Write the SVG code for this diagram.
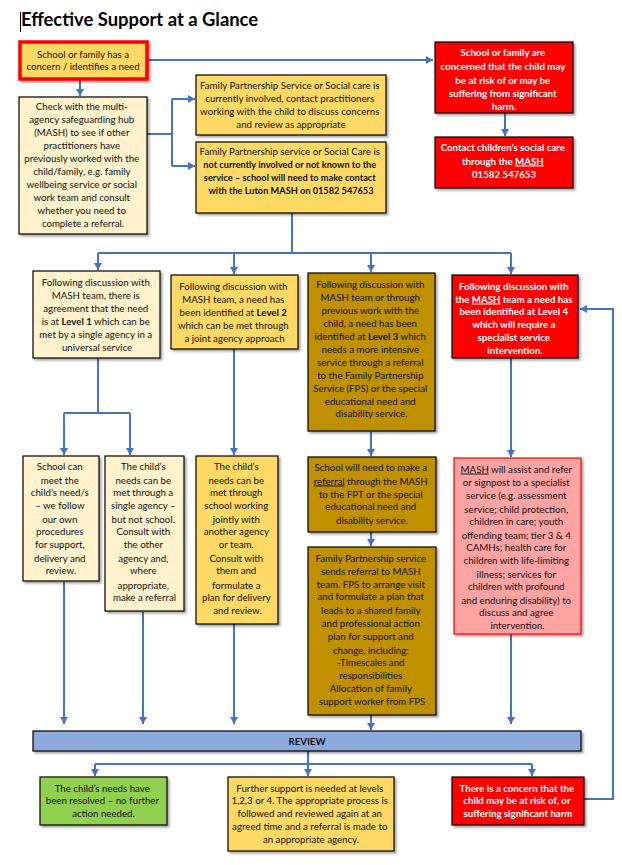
<svg xmlns="http://www.w3.org/2000/svg" width="622" height="865" viewBox="0 0 622 865">
<style>
.t{font-family:Lato,"Liberation Sans",sans-serif;font-size:9.7px;fill:#111;text-anchor:middle}
.w{fill:#fff;font-weight:bold}
.b{font-weight:bold}
.u{text-decoration:underline}
.box{stroke:#000;stroke-width:1.2;filter:url(#sh)}
.ly{fill:#FFF2CC}
.gd{fill:#FFD966}
.dg{fill:#BF9000}
.rd{fill:#FF0000}
.pk{fill:#FFA3A3;stroke:#FF0000}
.c{fill:none;stroke:#4472C4;stroke-width:2}
.a{marker-end:url(#ah)}
</style>
<defs>
<filter id="sh" x="-10%" y="-10%" width="130%" height="130%">
<feDropShadow dx="2" dy="2" stdDeviation="1.2" flood-color="#000" flood-opacity="0.35"/>
</filter>
<marker id="ah" markerUnits="userSpaceOnUse" markerWidth="8" markerHeight="8" refX="7" refY="4" orient="auto">
<path d="M0,0 L7,4 L0,8 z" fill="#4472C4"/>
</marker>
</defs>
<rect width="622" height="865" fill="#fff"/>
<line x1="20.5" y1="12" x2="20.5" y2="32" stroke="#000" stroke-width="1"/>
<text x="21" y="26" style="font-family:Lato,'Liberation Sans',sans-serif;font-size:18.4px;font-weight:bold;fill:#000">Effective Support at a Glance</text>

<g id="connectors">
<path class="c a" d="M80 80 V96"/>
<path class="c a" d="M148 60 H433"/>
<path class="c" d="M147 134 H172 M172 99 V166"/>
<path class="c a" d="M172 99 H195"/>
<path class="c a" d="M172 166 H195"/>
<path class="c a" d="M505 113 V136"/>
<path class="c" d="M292 213 V253 M98 253 H511"/>
<path class="c a" d="M98 253 V270"/>
<path class="c a" d="M234 253 V274"/>
<path class="c a" d="M371 253 V272"/>
<path class="c a" d="M511 253 V274"/>
<path class="c" d="M98 358 V413 M64 413 H130"/>
<path class="c a" d="M64 413 V455"/>
<path class="c a" d="M130 413 V455"/>
<path class="c a" d="M234 349 V455"/>
<path class="c a" d="M371 432 V456"/>
<path class="c a" d="M511 358 V457"/>
<path class="c a" d="M371 532 V546"/>
<path class="c a" d="M64 582 V724"/>
<path class="c a" d="M143 612 V724"/>
<path class="c a" d="M234 624 V724"/>
<path class="c a" d="M371 715 V730"/>
<path class="c a" d="M511 634 V724"/>
<path class="c" d="M308 751 V764 M95 764 H532"/>
<path class="c a" d="M95 764 V776"/>
<path class="c a" d="M308 764 V776"/>
<path class="c a" d="M532 764 V776"/>
<path class="c a" d="M584 799 H613 V309 H580"/>
</g>

<g id="n-concern">
<rect x="20" y="42" width="127" height="37" class="gd" stroke="#FF0000" stroke-width="3.5" filter="url(#sh)"/>
<text class="t"><tspan x="83" y="57.5">School or family has a</tspan><tspan x="83" y="70">concern / identifies a need</tspan></text>
</g>

<g id="n-check">
<rect x="19" y="97" width="128" height="137" class="box ly"/>
<text class="t">
<tspan x="83" y="110">Check with the multi-</tspan>
<tspan x="83" y="123">agency safeguarding hub</tspan>
<tspan x="83" y="136">(MASH) to see if other</tspan>
<tspan x="83" y="149">practitioners have</tspan>
<tspan x="83" y="162">previously worked with the</tspan>
<tspan x="83" y="175">child/family, e.g. family</tspan>
<tspan x="83" y="188">wellbeing service or social</tspan>
<tspan x="83" y="201">work team and consult</tspan>
<tspan x="83" y="214">whether you need to</tspan>
<tspan x="83" y="227">complete a referral.</tspan>
</text>
</g>

<g id="n-fps-involved">
<rect x="196" y="75" width="190" height="60" class="box gd"/>
<text class="t">
<tspan x="291" y="88.5">Family Partnership Service or Social care is</tspan>
<tspan x="291" y="101.5">currently involved, contact practitioners</tspan>
<tspan x="291" y="114.5">working with the child to discuss concerns</tspan>
<tspan x="291" y="127.5">and review as appropriate</tspan>
</text>
</g>

<g id="n-fps-not">
<rect x="196" y="142" width="190" height="71" class="box gd"/>
<text class="t">
<tspan x="291" y="155">Family Partnership service or Social Care is</tspan>
<tspan x="291" y="168" class="b" style="font-size:9.2px">not currently involved or not known to the</tspan>
<tspan x="291" y="181" class="b" style="font-size:9.2px">service – school will need to make contact</tspan>
<tspan x="291" y="194" class="b" style="font-size:9.2px">with the Luton MASH on 01582 547653</tspan>
</text>
</g>

<g id="n-risk">
<rect x="435" y="42" width="138" height="71" class="box rd"/>
<text class="t w">
<tspan x="504" y="56">School or family are</tspan>
<tspan x="504" y="70">concerned that the child may</tspan>
<tspan x="504" y="83.5">be at risk of or may be</tspan>
<tspan x="504" y="96.5">suffering from significant</tspan>
<tspan x="504" y="109.5">harm.</tspan>
</text>
</g>

<g id="n-contact">
<rect x="435" y="137" width="138" height="51" class="box rd"/>
<text class="t w">
<tspan x="504" y="151">Contact children’s social care</tspan>
<tspan x="504" y="164.5">through the <tspan class="u">MASH</tspan></tspan>
<tspan x="504" y="177.5">01582 547653</tspan>
</text>
</g>

<g id="n-level1">
<rect x="33" y="271" width="127" height="87" class="box ly"/>
<text class="t">
<tspan x="97" y="286">Following discussion with</tspan>
<tspan x="97" y="299">MASH team, there is</tspan>
<tspan x="97" y="312">agreement  that the need</tspan>
<tspan x="97" y="325">is at <tspan class="b">Level 1</tspan> which can be</tspan>
<tspan x="97" y="338">met by a single agency in a</tspan>
<tspan x="97" y="351">universal service</tspan>
</text>
</g>

<g id="n-level2">
<rect x="171" y="275" width="127" height="74" class="box gd"/>
<text class="t">
<tspan x="234.5" y="289.5">Following discussion with</tspan>
<tspan x="234.5" y="302.5">MASH team, a need has</tspan>
<tspan x="234.5" y="315.5">been identified at <tspan class="b">Level 2</tspan></tspan>
<tspan x="234.5" y="328.5">which can be met through</tspan>
<tspan x="234.5" y="341.5">a joint agency approach</tspan>
</text>
</g>

<g id="n-level3">
<rect x="308" y="273" width="127" height="158" class="box dg"/>
<text class="t">
<tspan x="371.5" y="287.5">Following discussion with</tspan>
<tspan x="371.5" y="300.5">MASH team or through</tspan>
<tspan x="371.5" y="313.5">previous work with the</tspan>
<tspan x="371.5" y="326.5">child, a need has been</tspan>
<tspan x="371.5" y="339.5">identified at  <tspan class="b">Level 3</tspan> which</tspan>
<tspan x="371.5" y="352.5">needs a more intensive</tspan>
<tspan x="371.5" y="365.5">service through a referral</tspan>
<tspan x="371.5" y="379">to the Family Partnership</tspan>
<tspan x="371.5" y="391.5">Service (FPS) or the special</tspan>
<tspan x="371.5" y="405">educational need and</tspan>
<tspan x="371.5" y="417">disability service.</tspan>
</text>
</g>

<g id="n-level4">
<rect x="452" y="275" width="126" height="83" class="box rd"/>
<text class="t w">
<tspan x="515" y="289.5">Following discussion with</tspan>
<tspan x="515" y="302.5">the <tspan class="u">MASH</tspan> team a need has</tspan>
<tspan x="515" y="315">been identified at Level 4</tspan>
<tspan x="515" y="328">which will require a</tspan>
<tspan x="515" y="341">specialist service</tspan>
<tspan x="515" y="354">intervention.</tspan>
</text>
</g>

<g id="n-school-meet">
<rect x="23" y="456" width="76" height="125" class="box ly"/>
<text class="t">
<tspan x="61" y="470">School can</tspan>
<tspan x="61" y="483.5">meet the</tspan>
<tspan x="61" y="496">child’s need/s</tspan>
<tspan x="61" y="509">– we follow</tspan>
<tspan x="61" y="522.5">our own</tspan>
<tspan x="61" y="535">procedures</tspan>
<tspan x="61" y="548">for support,</tspan>
<tspan x="61" y="562">delivery and</tspan>
<tspan x="61" y="574">review.</tspan>
</text>
</g>

<g id="n-single-agency">
<rect x="105" y="456" width="79" height="155" class="box ly"/>
<text class="t">
<tspan x="144.5" y="470">The child’s</tspan>
<tspan x="144.5" y="483.5">needs can be</tspan>
<tspan x="144.5" y="496">met through a</tspan>
<tspan x="144.5" y="509">single agency –</tspan>
<tspan x="144.5" y="522.5">but not school.</tspan>
<tspan x="144.5" y="535">Consult with</tspan>
<tspan x="144.5" y="548">the other</tspan>
<tspan x="144.5" y="562">agency and,</tspan>
<tspan x="144.5" y="574">where</tspan>
<tspan x="144.5" y="588.5">appropriate,</tspan>
<tspan x="144.5" y="601">make a referral</tspan>
</text>
</g>

<g id="n-school-working">
<rect x="196" y="456" width="82" height="168" class="box gd"/>
<text class="t">
<tspan x="237.5" y="470">The child’s</tspan>
<tspan x="237.5" y="483.5">needs can be</tspan>
<tspan x="237.5" y="496">met through</tspan>
<tspan x="237.5" y="509">school working</tspan>
<tspan x="237.5" y="522.5">jointly with</tspan>
<tspan x="237.5" y="535">another agency</tspan>
<tspan x="237.5" y="548">or team.</tspan>
<tspan x="237.5" y="562">Consult with</tspan>
<tspan x="237.5" y="574">them and</tspan>
<tspan x="237.5" y="588.5">formulate a</tspan>
<tspan x="237.5" y="601">plan for delivery</tspan>
<tspan x="237.5" y="614">and review.</tspan>
</text>
</g>

<g id="n-referral">
<rect x="308" y="457" width="128" height="75" class="box dg"/>
<text class="t">
<tspan x="372" y="471">School will need to make a</tspan>
<tspan x="372" y="484.5"><tspan class="u">referral</tspan> through the MASH</tspan>
<tspan x="372" y="497.5">to the FPT or the special</tspan>
<tspan x="372" y="510">educational need and</tspan>
<tspan x="372" y="523.5">disability service.</tspan>
</text>
</g>

<g id="n-fps-plan">
<rect x="308" y="547" width="128" height="168" class="box dg"/>
<text class="t">
<tspan x="372" y="561.5">Family Partnership service</tspan>
<tspan x="372" y="574.5">sends referral to MASH</tspan>
<tspan x="372" y="587.5">team. FPS to arrange visit</tspan>
<tspan x="372" y="600">and formulate a plan that</tspan>
<tspan x="372" y="613.5">leads to a shared family</tspan>
<tspan x="372" y="627">and professional action</tspan>
<tspan x="372" y="640">plan for support and</tspan>
<tspan x="372" y="653.5">change, including:</tspan>
<tspan x="372" y="666">-Timescales and</tspan>
<tspan x="372" y="679">responsibilities</tspan>
<tspan x="372" y="692">Allocation of family</tspan>
<tspan x="372" y="705">support worker from FPS</tspan>
</text>
</g>

<g id="n-mash-assist">
<rect x="454" y="458" width="127" height="176" class="box pk"/>
<text class="t">
<tspan x="517.5" y="472.5"><tspan class="u">MASH</tspan> will assist and refer</tspan>
<tspan x="517.5" y="485.5">or signpost to a specialist</tspan>
<tspan x="517.5" y="499">service (e.g. assessment</tspan>
<tspan x="517.5" y="512.5">service; child protection,</tspan>
<tspan x="517.5" y="525">children in care; youth</tspan>
<tspan x="517.5" y="538.5">offending team; tier 3 &amp; 4</tspan>
<tspan x="517.5" y="551">CAMHs; health care for</tspan>
<tspan x="517.5" y="564">children with life-limiting</tspan>
<tspan x="517.5" y="577.5">illness; services for</tspan>
<tspan x="517.5" y="590">children with profound</tspan>
<tspan x="517.5" y="603.5">and enduring disability) to</tspan>
<tspan x="517.5" y="616">discuss and agree</tspan>
<tspan x="517.5" y="629">intervention.</tspan>
</text>
</g>

<g id="n-review">
<rect x="33" y="731" width="548" height="20" class="box" fill="#8EA9DB"/>
<text class="t b" x="307" y="744.5">REVIEW</text>
</g>

<g id="n-resolved">
<rect x="40" y="777" width="127" height="48" class="box" fill="#92D050"/>
<text class="t">
<tspan x="103.5" y="791.5">The child’s needs have</tspan>
<tspan x="103.5" y="804">been resolved – no further</tspan>
<tspan x="103.5" y="817">action needed.</tspan>
</text>
</g>

<g id="n-further">
<rect x="228" y="777" width="166" height="74" class="box gd"/>
<text class="t">
<tspan x="311" y="791.5">Further support is needed at levels</tspan>
<tspan x="311" y="804">1,2,3 or 4. The appropriate process is</tspan>
<tspan x="311" y="817">followed and reviewed again at an</tspan>
<tspan x="311" y="830">agreed time and a referral is made to</tspan>
<tspan x="311" y="842.5">an appropriate agency.</tspan>
</text>
</g>

<g id="n-concern-harm">
<rect x="452" y="777" width="132" height="48" class="box rd"/>
<text class="t w">
<tspan x="518" y="791.5">There is a concern that the</tspan>
<tspan x="518" y="804">child may be at risk of, or</tspan>
<tspan x="518" y="817">suffering significant harm</tspan>
</text>
</g>
</svg>
